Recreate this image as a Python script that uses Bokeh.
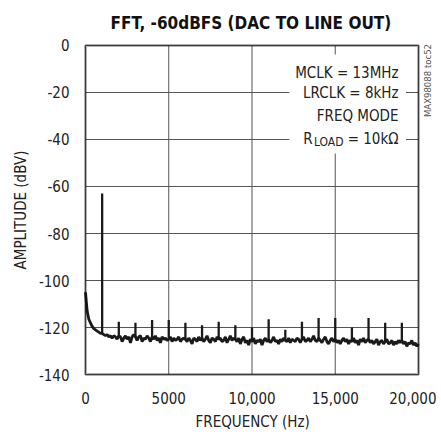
from bokeh.plotting import figure
from bokeh.models import Label, FixedTicker, BoxAnnotation, Title
from bokeh.embed import file_html
from bokeh.resources import INLINE

# ---- data ----
freq_step = 100
noise_db = [
    -105, -113, -116.5, -118, -119.5, -120.5, -121, -121.5, -122, -122.5,
    -122.5, -123, -123.5, -123, -124, -123.5, -124.5, -123.5, -124, -125,
    -123.5, -124, -126, -124.5, -123.5, -125, -124, -126.5, -124, -123,
    -124, -125.5, -124, -123.5, -126, -124.5, -125, -123.5, -124.5, -126,
    -124, -125, -123.5, -125.5, -124.5, -126.5, -124, -125, -124.5, -125.5,
    -125, -124, -126, -124.5, -125.5, -125, -124, -126, -125, -124.5,
    -125, -126, -124.5, -125.5, -127, -124.5, -125, -126, -124, -125.5,
    -124.5, -126, -125, -123.5, -125.5, -126.5, -124.5, -125, -126, -124,
    -125, -124.5, -126, -125.5, -124, -126.5, -125, -123.5, -125.5, -124.5,
    -125, -126, -124.5, -127, -125, -124, -126.5, -125.5, -127.5, -125,
    -126, -124.5, -127, -125.5, -126, -125, -127.5, -125.5, -124.5, -126,
    -125, -126.5, -125.5, -124, -126, -125.5, -127, -125, -126, -124.5,
    -125.5, -126, -124.5, -126.5, -125, -125.5, -126, -124.5, -125, -126.5,
    -125, -124, -126, -125.5, -124.5, -126, -125, -123.5, -125.5, -126,
    -124.5, -125.5, -126.5, -125, -124, -126, -127, -125.5, -124.5, -126,
    -125, -126.5, -125.5, -127, -125.5, -124.5, -126, -125, -127, -125.5,
    -126, -124.5, -126.5, -125.5, -127.5, -125, -126, -124.5, -126.5, -125.5,
    -125, -126.5, -125.5, -127, -126, -125, -127.5, -126, -125.5, -127,
    -126, -125, -127, -126.5, -125.5, -127.5, -126, -127, -125.5, -126.5,
    -125.5, -127, -126, -128, -126.5, -127, -125.5, -127.5, -126.5, -128,
    -127,
]
noise_freq = [i * freq_step for i in range(len(noise_db))]

spike_freq = [1000, 2000, 3000, 4000, 5000, 6000, 7000, 8000, 9000, 10000,
              11000, 12000, 13000, 14000, 15000, 16000, 17000, 18000, 19000]
spike_db = [-63, -117.5, -118, -116.8, -116.8, -118, -119, -117.5, -119, -120,
            -116.5, -121, -117.5, -116, -116, -120, -116, -118, -118]

x_ticks = [0, 5000, 10000, 15000, 20000]
x_tick_labels = ["0", "5000", "10,000", "15,000", "20,000"]
y_ticks = [0, -20, -40, -60, -80, -100, -120, -140]
y_tick_labels = ["0", "-20", "-40", "-60", "-80", "-100", "-120", "-140"]

title_text = "FFT, -60dBFS (DAC TO LINE OUT)"
x_label = "FREQUENCY (Hz)"
y_label = "AMPLITUDE (dBV)"
notes = ["MCLK = 13MHz", "LRCLK = 8kHz", "FREQ MODE"]
side_note = "MAX98088 toc52"

FONT = "'DejaVu Sans Condensed', 'Liberation Sans', sans-serif"
X0, X1 = x_ticks[0], x_ticks[-1]
Y0, Y1 = y_ticks[-1], y_ticks[0]

# frame slightly larger than the plotted box, so that the side note fits inside it
p = figure(frame_width=350, frame_height=333,
           x_range=(-120.1, 20901), y_range=(-140.851, 0.851),
           output_backend="svg", toolbar_location=None,
           min_border_left=83, min_border_right=3, min_border_top=42,
           min_border_bottom=20)

p.title.text = title_text
p.title.text_font = FONT
p.title.text_font_style = "bold"
p.title.text_font_size = "17px"
p.title.text_color = "#111111"
p.title.align = "left"
p.title.offset = 27
p.title.standoff = 21

p.outline_line_color = None
p.background_fill_color = "white"
p.border_fill_color = "white"
p.grid.visible = False

p.xaxis.ticker = FixedTicker(ticks=x_ticks)
p.xaxis.major_label_overrides = {t: l for t, l in zip(x_ticks, x_tick_labels)}
p.yaxis.ticker = FixedTicker(ticks=y_ticks)
p.yaxis.major_label_overrides = {t: l for t, l in zip(y_ticks, y_tick_labels)}
for ax in (p.xaxis, p.yaxis):
    ax.axis_line_color = None
    ax.major_tick_line_color = None
    ax.minor_tick_line_color = None
    ax.major_tick_out = 0
    ax.major_tick_in = 0
    ax.minor_tick_out = 0
    ax.major_label_text_font = FONT
    ax.major_label_text_font_size = "15px"
    ax.major_label_text_color = "#222222"
    ax.axis_label_text_font = FONT
    ax.axis_label_text_font_size = "15px"
    ax.axis_label_text_font_style = "normal"
    ax.axis_label_text_color = "#222222"
p.yaxis.axis_label = y_label
p.xaxis.major_label_standoff = 15
p.yaxis.major_label_standoff = 14
p.yaxis.axis_label_standoff = 6

# x axis title placed under the axis, centred on the plotted box
p.add_layout(Title(text=x_label, align="left", offset=112, text_font=FONT,
                   text_font_size="15px", text_font_style="normal",
                   text_color="#222222", standoff=9), "below")

# grid lines
p.segment(x0=[X0] * len(y_ticks), x1=[X1] * len(y_ticks), y0=y_ticks, y1=y_ticks,
          line_color="#555555", line_width=1)
p.segment(x0=x_ticks, x1=x_ticks, y0=[Y0] * len(x_ticks), y1=[Y1] * len(x_ticks),
          line_color="#555555", line_width=1)

# white box behind notes
p.quad(left=[12250], right=[19250], top=[-3.8], bottom=[-46],
       fill_color="white", line_color=None)

# spectrum
p.line(noise_freq, noise_db, line_color="#1a1a1a", line_width=2.8)
spike_base = [noise_db[int(f // freq_step)] for f in spike_freq]
p.segment(x0=spike_freq, y0=spike_base, x1=spike_freq, y1=spike_db,
          line_color="#1a1a1a", line_width=2.3)

# plot box
p.add_layout(BoxAnnotation(left=X0, right=X1, top=Y1, bottom=Y0,
                           fill_alpha=0, line_color="black", line_width=3,
                           level="overlay"))

# notes
note_y = [-11.5, -20.4, -30.2]
for t, yy in zip(notes, note_y):
    p.add_layout(Label(x=18800, y=yy, text=t, text_font=FONT,
                       text_font_size="15px", text_align="right",
                       text_baseline="middle", text_color="#222222"))
# R_LOAD line with subscript
p.add_layout(Label(x=18800, y=-40, text="= 10kΩ", text_font=FONT,
                   text_font_size="15px", text_align="right",
                   text_baseline="middle", text_color="#222222"))
p.add_layout(Label(x=15495, y=-41.2, text="LOAD", text_font=FONT,
                   text_font_size="12px", text_align="right",
                   text_baseline="middle", text_color="#222222"))
p.add_layout(Label(x=13634, y=-40, text="R", text_font=FONT,
                   text_font_size="15px", text_align="right",
                   text_baseline="middle", text_color="#222222"))

# side note (rotated, reading upward)
p.add_layout(Label(x=20540, y=-14.9, text=side_note, text_font=FONT,
                   text_font_size="9.5px", text_align="center",
                   text_baseline="middle", angle=1.5708,
                   text_color="#555555"))

open("out.html", "w").write(file_html(p, INLINE))
